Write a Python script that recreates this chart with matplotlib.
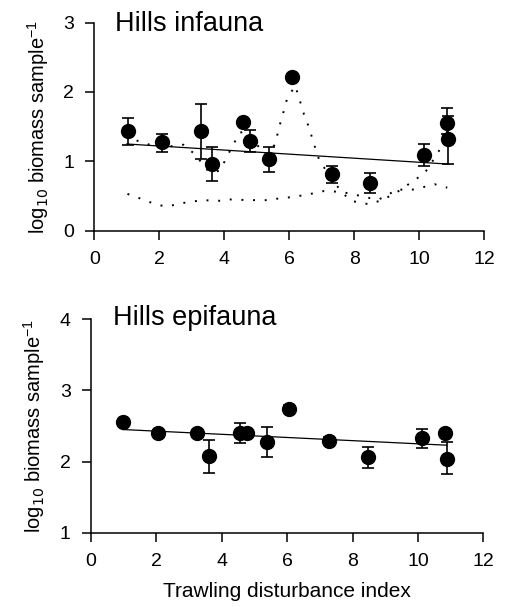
import matplotlib.pyplot as plt
import numpy as np

plt.rcParams['font.family'] = ['Liberation Sans', 'DejaVu Sans']

# Hills infauna
inf_x = [1.03, 2.09, 3.27, 3.62, 4.57, 4.79, 5.38, 6.08, 7.31, 8.48, 10.13, 10.84, 10.89]
inf_y = [1.44, 1.28, 1.44, 0.96, 1.56, 1.30, 1.03, 2.22, 0.81, 0.69, 1.09, 1.55, 1.32]
inf_hi = [1.63, 1.40, 1.83, 1.20, 1.56, 1.45, 1.21, 2.22, 0.93, 0.83, 1.25, 1.77, 1.66]
inf_lo = [1.23, 1.14, 1.04, 0.72, 1.56, 1.14, 0.85, 2.22, 0.69, 0.55, 0.93, 1.40, 0.96]
inf_fit_x = [1.0, 10.9]
inf_fit_y = [1.25, 0.96]

# dotted envelope curves
upper_x = [1.3, 1.9, 2.46, 2.74, 3.1, 3.52, 3.85, 4.0, 4.15, 4.31, 4.46, 4.62, 4.9,
           5.25, 5.56, 5.69, 5.78, 5.93, 6.18, 6.27, 6.45, 6.55, 6.65, 6.73, 6.92,
           7.25, 7.61, 7.89, 8.46, 8.9, 9.4, 9.88, 10.15, 10.53, 10.69]
upper_y = [1.30, 1.21, 1.22, 1.24, 1.10, 0.85, 0.86, 0.99, 1.13, 1.27, 1.41, 1.43, 1.30,
           1.10, 1.24, 1.50, 1.64, 1.90, 2.09, 1.96, 1.68, 1.56, 1.42, 1.29, 1.02,
           0.78, 0.56, 0.43, 0.38, 0.45, 0.58, 0.74, 0.82, 1.09, 1.22]
lower_x = [1.02, 1.32, 1.89, 2.18, 2.46, 2.74, 3.32, 3.9, 4.18, 4.76, 5.32, 5.61, 6.18,
           6.76, 7.05, 7.6, 8.2, 8.47, 8.75, 9.05, 9.32, 9.62, 9.9, 10.47, 10.86]
lower_y = [0.53, 0.48, 0.38, 0.35, 0.37, 0.40, 0.44, 0.43, 0.45, 0.44, 0.44, 0.46, 0.49,
           0.54, 0.57, 0.56, 0.50, 0.47, 0.45, 0.52, 0.60, 0.58, 0.60, 0.67, 0.62]

# Hills epifauna
epi_x = [0.99, 2.06, 3.23, 3.61, 4.56, 4.78, 5.37, 6.06, 7.29, 8.48, 10.11, 10.83, 10.88]
epi_y = [2.55, 2.40, 2.40, 2.08, 2.40, 2.40, 2.27, 2.74, 2.29, 2.06, 2.33, 2.40, 2.04]
epi_hi = [2.55, 2.40, 2.40, 2.31, 2.54, 2.40, 2.48, 2.80, 2.34, 2.21, 2.46, 2.40, 2.28]
epi_lo = [2.55, 2.40, 2.40, 1.84, 2.26, 2.40, 2.07, 2.68, 2.24, 1.91, 2.19, 2.40, 1.82]
epi_fit_x = [0.99, 10.88]
epi_fit_y = [2.45, 2.23]

xticks = [0, 2, 4, 6, 8, 10, 12]
ylabel = r'log$_{10}$ biomass sample$^{\mathregular{-1}}$'

fig = plt.figure(figsize=(5.09, 6.07), dpi=100)
ax1 = fig.add_axes([0.1853, 0.62, 0.7662, 0.3427])
ax2 = fig.add_axes([0.1788, 0.1224, 0.7707, 0.3516])


def draw_panel(ax, x, y, lo, hi, fx, fy, ylim, yticks, title, tx, ty):
    y = np.array(y)
    yerr = [y - np.array(lo), np.array(hi) - y]
    ax.plot(fx, fy, color='black', lw=0.9, zorder=2)
    ax.errorbar(x, y, yerr=yerr, fmt='o', color='black', ms=10, elinewidth=1.2,
                capsize=4.5, capthick=1.2, zorder=3, clip_on=False)
    ax.set_xlim(0, 12)
    ax.set_ylim(*ylim)
    ax.set_xticks(xticks)
    ax.set_yticks(yticks)
    for s in ['top', 'right']:
        ax.spines[s].set_visible(False)
    for s in ['left', 'bottom']:
        ax.spines[s].set_linewidth(1.1)
    ax.tick_params(direction='out', length=6.5, width=1.1, labelsize=14)
    ax.tick_params(axis='x', pad=8)
    ax.tick_params(axis='y', pad=8)
    ax.set_ylabel(ylabel, fontsize=14.5, labelpad=9)
    ax.text(tx, ty, title, transform=ax.transAxes, fontsize=19.5, va='center', ha='left')


draw_panel(ax1, inf_x, inf_y, inf_lo, inf_hi, inf_fit_x, inf_fit_y, (0, 3), [0, 1, 2, 3],
           'Hills infauna', 0.053, 0.994)
ax1.plot(upper_x, upper_y, color='black', lw=1.4, linestyle=(0, (1, 5)), zorder=1)
ax1.plot(lower_x, lower_y, color='black', lw=1.4, linestyle=(0, (1, 5)), zorder=1)

draw_panel(ax2, epi_x, epi_y, epi_lo, epi_hi, epi_fit_x, epi_fit_y, (1, 4), [1, 2, 3, 4],
           'Hills epifauna', 0.057, 1.006)
ax2.set_xlabel('Trawling disturbance index', fontsize=15, labelpad=9)

fig.savefig('out.png', dpi=100)
